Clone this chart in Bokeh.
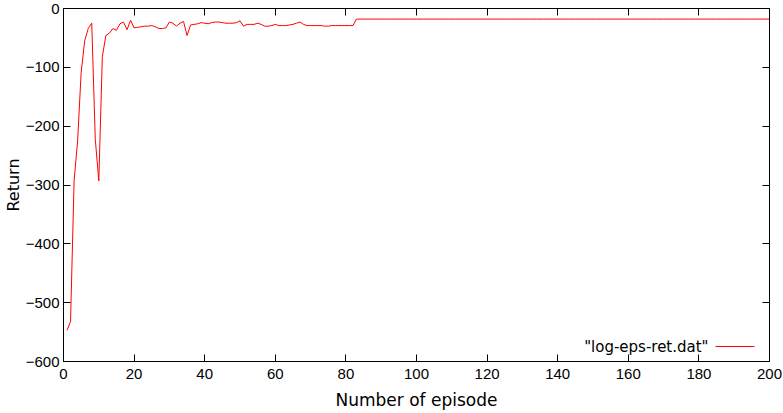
from bokeh.plotting import figure
from bokeh.models import Range1d, FixedTicker, LinearAxis, Label, Arrow, ColumnDataSource
from bokeh.embed import file_html
from bokeh.resources import INLINE

# ---- data ----
episodes_early = list(range(1, 84))
returns_early = [
    -547, -532, -293, -225, -109, -55, -34, -25, -222, -293,
    -82, -46, -42, -34, -37, -26, -23, -36, -20, -33,
    -32, -31, -30, -30, -29, -31, -34, -34, -33, -23,
    -25, -30, -25, -22, -46, -28, -27, -26, -24, -25,
    -26, -24, -23, -23, -24, -25, -25, -25, -24, -21,
    -30, -27, -27, -27, -25, -27, -30, -30, -29, -27,
    -29, -29, -29, -28, -27, -25, -23, -27, -29, -29,
    -29, -29, -29, -30, -30, -29, -29, -29, -29, -29,
    -29, -29, -18,
]
episodes_late = list(range(84, 201))
returns_late = [-18] * len(episodes_late)

episodes = episodes_early + episodes_late
returns = returns_early + returns_late

x_ticks = [0, 20, 40, 60, 80, 100, 120, 140, 160, 180, 200]
y_ticks = [-600, -500, -400, -300, -200, -100, 0]
series_label = '"log-eps-ret.dat"'
x_title = "Number of episode"
y_title = "Return"

TICK_FONT = "Liberation Sans"
LABEL_FONT = "DejaVu Sans"

p = figure(width=783, height=413, output_backend="svg", toolbar_location=None,
           x_range=Range1d(0, 200), y_range=Range1d(-600, 0),
           min_border_left=62, min_border_right=14, min_border_top=8, min_border_bottom=52,
           x_axis_label=x_title, y_axis_label=y_title)
p.styles = {"position": "absolute", "top": "0px", "left": "0px"}
p.background_fill_color = "white"
p.border_fill_color = "white"
p.outline_line_color = "black"
p.outline_line_width = 1
p.xgrid.visible = False
p.ygrid.visible = False

src = ColumnDataSource(dict(x=episodes, y=returns))
p.line("x", "y", source=src, line_color="#ff0000", line_width=1)

def style_axis(ax, ticks, show_labels=True):
    ax.ticker = FixedTicker(ticks=ticks)
    ax.axis_line_color = None
    ax.major_tick_in = 7
    ax.major_tick_out = 0
    ax.major_tick_line_color = "black"
    ax.minor_tick_line_color = None
    ax.major_label_text_font = TICK_FONT
    ax.major_label_text_font_size = "15px"
    ax.major_label_text_color = "black"
    ax.axis_label_text_font = LABEL_FONT
    ax.axis_label_text_font_size = "16px"
    ax.axis_label_text_font_style = "normal"
    ax.axis_label_text_color = "black"
    if not show_labels:
        ax.major_label_text_color = None
        ax.major_label_standoff = 0

xa = p.xaxis[0]
ya = p.yaxis[0]
style_axis(xa, x_ticks)
style_axis(ya, y_ticks)
xa.major_label_standoff = 7
xa.axis_label_standoff = 8
xa.axis_label_text_font_size = "17px"
ya.major_label_standoff = 4
ya.axis_label_standoff = 0

top = LinearAxis()
style_axis(top, x_ticks, show_labels=False)
p.add_layout(top, "above")
right = LinearAxis()
style_axis(right, y_ticks, show_labels=False)
p.add_layout(right, "right")

# gnuplot-style key: text on the left, sample line on the right
p.add_layout(Label(x=645, y=15, x_units="screen", y_units="screen", text=series_label,
                   text_align="right", text_baseline="middle",
                   text_font=LABEL_FONT, text_font_size="15px", text_color="black"))
p.add_layout(Arrow(end=None, x_start=652, y_start=15, x_end=691, y_end=15,
                   start_units="screen", end_units="screen",
                   line_color="#ff0000", line_width=1))

open("out.html", "w").write(file_html(p, INLINE))
